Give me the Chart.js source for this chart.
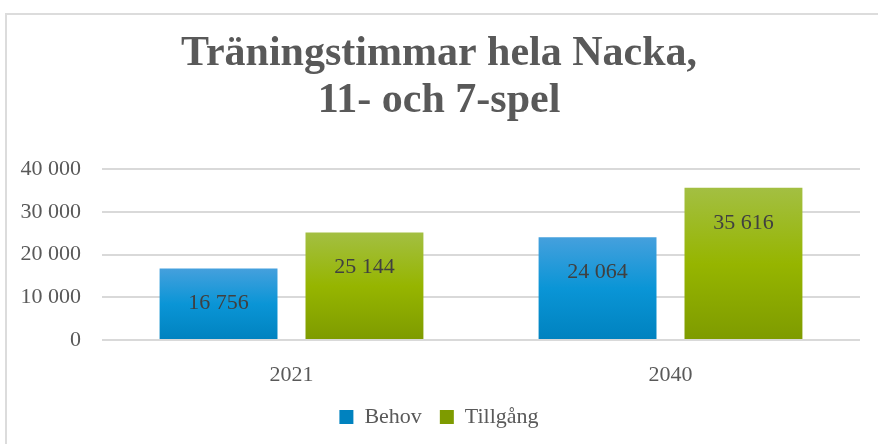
<!DOCTYPE html>
<html>
<head>
<meta charset="utf-8">
<script src="https://cdn.jsdelivr.net/npm/chart.js@4.4.0/dist/chart.umd.min.js"></script>
<style>
  body { margin: 0; background: #fff; overflow: hidden; }
  #frame { position: absolute; left: 5px; top: 13px; width: 900px; height: 500px; border: 2px solid #dcdcdc; }
  #wrap { position: absolute; left: 0; top: 0; width: 878px; height: 444px; }
</style>
</head>
<body>
<div id="frame"></div>
<div id="wrap"><canvas id="chart"></canvas></div>
<script>
let years = ['2021', '2040']
let behov = [16756, 24064]
let tillgang = [25144, 35616]
let yTicks = [0, 10000, 20000, 30000, 40000]

let serif = '"Liberation Serif", "DejaVu Serif", serif'

let fmt = (v) => String(v).replace(/\B(?=(\d{3})+(?!\d))/g, ' ')

// gradient per bar, light at top, darker at the bottom
function barFill(stops, flat) {
  return (ctx) => {
    let chart = ctx.chart
    let y = chart.scales && chart.scales.y
    if (!chart.chartArea || !y || ctx.raw === undefined) return flat
    let top = y.getPixelForValue(ctx.raw)
    let bottom = y.getPixelForValue(0)
    let g = chart.ctx.createLinearGradient(0, top, 0, bottom)
    g.addColorStop(0, stops[0])
    g.addColorStop(0.5, stops[1])
    g.addColorStop(1, stops[2])
    return g
  }
}

let blueStops = ['#45a0dd', '#0a95d6', '#0082bf']
let greenStops = ['#a3bf42', '#96b500', '#7e9b00']

let valueLabels = {
  id: 'valueLabels',
  afterDatasetsDraw(chart) {
    let ctx = chart.ctx
    ctx.save()
    ctx.font = '22px ' + serif
    ctx.fillStyle = '#404040'
    ctx.textAlign = 'center'
    ctx.textBaseline = 'middle'
    chart.data.datasets.forEach((ds, i) => {
      chart.getDatasetMeta(i).data.forEach((bar, j) => {
        ctx.fillText(fmt(ds.data[j]), bar.x, bar.y + 35)
      })
    })
    ctx.restore()
  },
}

new Chart(document.getElementById('chart'), {
  type: 'bar',
  data: {
    labels: years,
    datasets: [
      {
        label: 'Behov',
        data: behov,
        backgroundColor: barFill(blueStops, '#0a95d6'),
      },
      {
        label: 'Tillgång',
        data: tillgang,
        backgroundColor: barFill(greenStops, '#96b500'),
      },
    ],
  },
  options: {
    responsive: true,
    maintainAspectRatio: false,
    animation: false,
    categoryPercentage: 0.77,
    barPercentage: 0.808,
    layout: { padding: { left: 18, right: 18, top: 31, bottom: 6 } },
    scales: {
      x: {
        afterFit: (axis) => { axis.height = 48 },
        grid: { display: false, drawTicks: false },
        border: { display: false },
        ticks: { color: '#595959', font: { family: serif, size: 22 }, padding: 22 },
      },
      y: {
        min: 0,
        max: 40000,
        afterBuildTicks: (axis) => { axis.ticks = yTicks.map((v) => ({ value: v })) },
        afterFit: (axis) => { axis.width = 84 },
        grid: { color: '#d9d9d9', lineWidth: 2, drawTicks: false },
        border: { display: false },
        ticks: { color: '#595959', font: { family: serif, size: 22 }, padding: 21, callback: (v) => fmt(v) },
      },
    },
    plugins: {
      title: {
        display: true,
        text: ['Träningstimmar hela Nacka,', '11- och 7-spel'],
        color: '#595959',
        font: { family: serif, size: 42, weight: 'bold', lineHeight: 1.12 },
        padding: { top: 0, bottom: 44 },
      },
      legend: {
        position: 'bottom',
        labels: {
          color: '#595959',
          font: { family: serif, size: 22 },
          boxWidth: 14,
          boxHeight: 14,
          padding: 18,
        },
      },
      tooltip: { enabled: false },
    },
  },
  plugins: [valueLabels],
})
</script>
</body>
</html>
